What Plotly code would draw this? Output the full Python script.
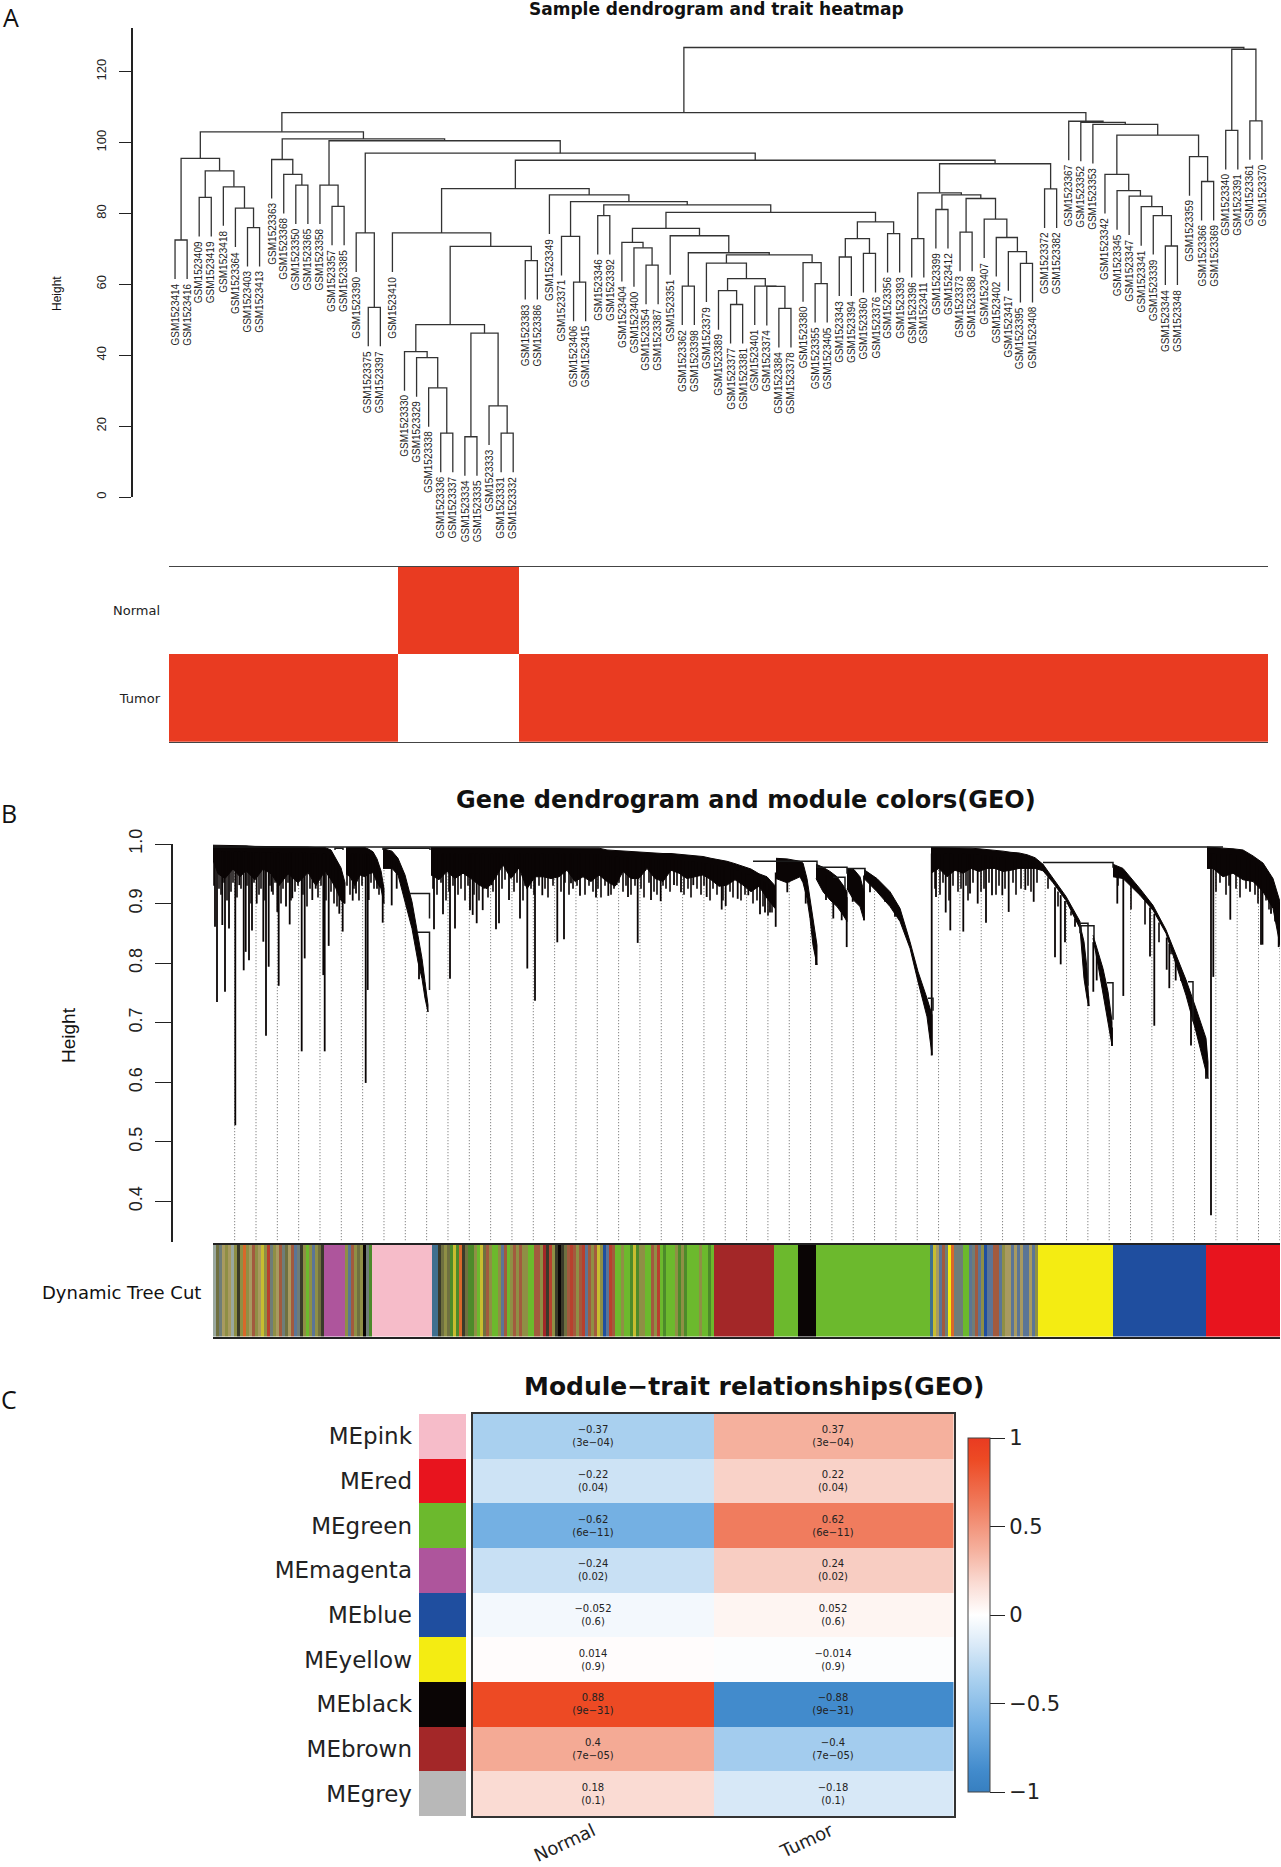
import numpy as np
import plotly.graph_objects as go

W, H = 1281, 1867

# --- panel A: sample tree, node = (height, left, right), leaf = GSM1523xxx suffix
T_LEFT1 = (95.5, (72.5, 414, 416), (92, (84.5, 409, 419), (87.5, 418, (81.5, 364, (76, 403, 413)))))
T_LEFT2 = (95.2, 363, (91, 368, (88, 350, 365)))
T_LEFT3 = (88, 358, (82, 357, 385))
T_LEFT4 = (74.5, 390, (53.5, 375, 397))
T_NORMAL = (48.6, (41, 330, (39.3, 329, (30.8, 338, (18, 336, 337)))),
            (46.2, (17, 334, 335), (25.7, 333, (18, 331, 332))))
T_MID1 = (74.5, 410, (70.7, T_NORMAL, (66.7, 383, 386)))
T_MID3 = (68.9, (59.5, 362, 398),
          (68.3, (66, 379, (61.6, (58.2, 389, (54.3, 377, 381)), (59.5, 401, (59.4, 374, (53.2, 384, 378))))),
           (66.1, 380, (60.2, 355, 405))))
T_MID2 = (80.3, (75.8, (71.8, 404, (70.3, 400, (65.4, 354, 387))), (73.7, 351, T_MID3)),
          (77.6, (72.9, (67.7, 343, 394), (68.7, 360, 376)), (74.3, 356, 393)))
T_MID = (87, T_MID1, (85.2, 349, (83.3, (73.5, 371, (60.6, 406, 415)), (82.4, (79.4, 346, 392), T_MID2))))
T_RIGHT = (94, (85.8, (72.9, 396, 411),
                (85.2, (81.1, 399, 412),
                 (84.2, (74.7, 373, 388), (78.4, 407, (73.2, 402, (69.2, 417, (65.9, 395, 408))))))),
           (86.9, 372, 382))
T_LEFT = (103, T_LEFT1, (101, T_LEFT2, (100.5, T_LEFT3, (97, T_LEFT4, (95, T_MID, T_RIGHT)))))
T_FAR = (106, 367, (105.7, 352, (105.1, 353, (102.1,
         (91, 342, (86.4, 345, (84.9, 347, (81.9, 341, (79.4, 339, (70.8, 344, 348)))))),
         (96, 359, (89, 366, 369))))))
SAMPLE_TREE = (126.8, (108.4, T_LEFT, T_FAR), (126.3, (103.4, 340, 391), (106.1, 361, 370)))
LEAF_HANG = 11
NORMAL_SAMPLES = [330, 329, 338, 336, 337, 334, 335, 333, 331, 332]
TRAITS = ["Normal", "Tumor"]
A_TICKS = [0, 20, 40, 60, 80, 100, 120]

# --- panel B: gene tree, read as branches (gene order x, top and lower edge of the black mass)
BR1_X = [0, 5, 12, 20, 27, 33, 42, 50, 58, 66, 75, 85, 95, 103, 112, 118, 123, 128, 132]
BR1_TOP = [.998, .998, .998, .997, .997, .997, .996, .996, .996, .995, .995, .995, .995, .994, .994, .990, .975, .960, .935]
BR1_LOW = [.973, .950, .942, .958, .945, .955, .940, .958, .950, .930, .950, .935, .952, .930, .955, .940, .925, .905, .900]
BR2_X = [133, 137, 142, 147, 152, 156, 160, 164, 168, 171]
BR2_TOP = [.994, .994, .994, .994, .994, .991, .987, .975, .955, .925]
BR2_LOW = [.950, .945, .930, .948, .945, .950, .952, .935, .925, .900]
BR3_X = [170, 179, 185, 192, 199, 205, 209, 212, 215]
BR3_TOP = [.992, .988, .976, .948, .903, .847, .808, .769, .730]
BR3_LOW = [.959, .959, .948, .903, .858, .802, .774, .741, .718]
BR4_X = [218, 226, 234, 242, 250, 258, 266, 274, 282, 290, 298, 306, 314, 322, 330, 338, 346, 354, 362, 370, 378, 386,
         394, 402, 410, 418, 426, 434, 442, 450, 458, 466, 474, 482, 490, 498, 506, 514, 522, 530, 538, 546, 554, 562]
BR4_TOP = [.994, .994, .994, .994, .994, .994, .994, .994, .994, .994, .994, .994, .994, .994, .994, .994, .994, .994, .994, .994, .994, .993,
           .990, .989, .988, .987, .987, .986, .985, .984, .984, .983, .982, .980, .979, .976, .974, .971, .967, .962, .958, .950, .945, .930]
BR4_LOW = [.948, .940, .954, .942, .951, .942, .931, .925, .942, .965, .942, .960, .925, .945, .945, .942, .945, .956, .937, .945, .937, .948,
           .937, .929, .954, .942, .942, .959, .942, .937, .956, .951, .942, .945, .948, .940, .929, .931, .940, .931, .920, .929, .909, .892]
BR5_X = [563, 574, 587, 590, 594, 597, 600, 604]
BR5_TOP = [.976, .975, .971, .968, .942, .909, .870, .830]
BR5_LOW = [.942, .935, .945, .935, .909, .875, .830, .797]
BR6_X = [603, 610, 617, 624, 630, 634]
BR6_TOP = [.966, .961, .954, .945, .931, .920]
BR6_LOW = [.942, .920, .906, .895, .881, .870]
BR7_X = [634, 641, 647, 651]
BR7_TOP = [.959, .957, .945, .920]
BR7_LOW = [.925, .905, .895, .872]
BR8_X = [651, 664, 677, 687, 697, 705, 714, 719]
BR8_TOP = [.957, .942, .920, .892, .836, .786, .741, .713]
BR8_LOW = [.942, .920, .895, .870, .825, .769, .710, .646]
BR9_X = [718, 726, 734, 742, 750, 758, 766, 774, 782, 790, 798, 806, 814, 822, 830]
BR9_TOP = [.994, .994, .994, .994, .994, .993, .992, .991, .989, .988, .986, .985, .982, .977, .966]
BR9_LOW = [.951, .959, .945, .956, .951, .959, .954, .959, .959, .954, .956, .959, .959, .959, .955]
BR10_X = [830, 840, 853, 867]
BR10_TOP = [.966, .942, .912, .870]
BR10_LOW = [.955, .935, .905, .858]
BR11_X = [867, 871, 874, 876]
BR11_TOP = [.864, .836, .791, .735]
BR11_LOW = [.858, .774, .741, .728]
BR12_X = [880, 885, 890, 895, 899]
BR12_TOP = [.847, .819, .791, .752, .702]
BR12_LOW = [.842, .797, .752, .702, .662]
BR13_X = [900, 910, 927, 940, 953, 963, 973, 983, 993, 995]
BR13_TOP = [.966, .959, .925, .897, .856, .814, .772, .724, .674, .634]
BR13_LOW = [.945, .942, .914, .889, .850, .797, .746, .685, .618, .606]
BR14_X = [994, 1000, 1010, 1020, 1030, 1040, 1050, 1060, 1067]
BR14_TOP = [.995, .994, .993, .992, .990, .980, .968, .942, .903]
BR14_LOW = [.959, .959, .945, .951, .940, .937, .920, .892, .830]

# single branches that hang well below the mass
DROP_X = [2, 4, 9.3, 12, 16, 22.3, 26.3, 30.7, 32.7, 36, 39, 43.7, 50.3, 53, 55.7, 58.7, 64.3, 65.7, 73, 76.7, 79.3, 88.7,
          91.7, 99.3, 102.7, 110.3, 111.7, 115.7, 126.3, 129.7, 139.7, 143, 152.7, 154.7, 155.7, 164, 169.7, 178.7, 183.7,
          206, 221, 230, 237, 242, 257, 259.7, 263.7, 269.7, 278.7, 283, 286, 296, 307, 314.3, 322, 329.3, 344.3, 351, 358,
          367, 383, 395.3, 403.7, 415, 424.7, 438, 447.7, 461, 468, 480.3, 493.7, 508.7, 512.7, 524.7, 535.3, 547, 552, 557,
          562.7, 574.3, 592.7, 603, 613, 620.3, 628.7, 633.7, 639.7, 651, 657, 672, 682, 718.7, 723, 732.7, 737.3, 750.3,
          757, 764.7, 773, 779, 789.3, 795.7, 812.3, 820.7, 842, 847.7, 852, 862, 875.3, 880.3, 883.7, 899, 904.3, 910.3,
          937, 941.3, 953.7, 956.3, 962.7, 978, 993, 998, 1000.3, 1017.3, 1037, 1048, 1049.5, 1058, 1065.7]
DROP_LOW = [.861, .735, .864, .752, .858, .528, .931, .788, .819, .805, .855, .900, .836, .678, .794, .920, .886, .762, .895, .865, .909, .652,
            .808, .906, .925, .780, .652, .829, .883, .853, .905, .917, .599, .755, .906, .925, .868, .897, .925,
            .773, .857, .882, .774, .858, .889, .881, .867, .889, .931, .857, .867, .906, .875, .791, .737, .914, .835, .840, .934,
            .913, .910, .913, .931, .911, .834, .906, .904, .931, .919, .931, .911, .890, .896, .908, .914, .882, .885, .885,
            .861, .919, .900, .797, .906, .875, .872, .827, .903, .872, .919, .903, .878, .645, .911, .885, .855, .853,
            .917, .900, .868, .914, .914, .886, .923, .903, .810, .798, .835, .861, .728, .752, .771, .661, .900, .745,
            .811, .695, .789, .758, .771, .662, .606, .377, .777, .873, .920, .831, .831, .883, .827]

# the short ragged branches along the lower edge of the mass
SHORT_X = [1, 6, 8, 11, 14, 18, 20, 24, 28, 34, 38, 41, 46, 48, 52, 57, 60, 62, 68, 70, 75, 78, 82, 85, 90, 94, 97, 100, 105, 108, 113, 118, 121, 124,
           134, 137, 141, 146, 149, 158, 161, 166,
           220, 224, 228, 233, 236, 240, 245, 248, 252, 255, 261, 266, 271, 275, 280, 289, 292, 301, 304, 310, 312, 318, 321, 326, 332, 335, 340,
           348, 352, 356, 360, 364, 372, 376, 380, 385, 388, 392, 398, 401, 406, 410, 413, 418, 422, 428, 431, 436, 441, 444, 450, 453, 457,
           464, 471, 475, 478, 484, 488, 491, 497, 500, 504, 510, 517, 520, 528, 532, 540, 544, 550, 555, 559,
           722, 727, 730, 736, 740, 745, 748, 753, 755, 760, 768, 771, 776, 783, 786, 792, 800, 803, 808, 815, 818, 824,
           1003, 1007, 1013, 1016, 1023, 1027, 1033, 1042, 1045, 1053, 1056, 1062,
           835, 845, 858, 905, 918, 932, 946, 958, 968]
SHORT_LOW = [.930, .925, .915, .935, .905, .920, .935, .910, .925, .930, .900, .935, .915, .925, .905, .930, .915, .935, .900, .925, .935, .905, .920, .930, .915, .895, .925, .935, .910, .930, .905, .920, .900, .895,
             .930, .915, .925, .905, .930, .935, .925, .915,
             .925, .915, .935, .905, .920, .930, .915, .925, .905, .930, .915, .905, .925, .910, .920, .925, .940, .920, .935, .905, .930, .925, .915, .930, .925, .910, .930,
             .920, .935, .915, .925, .930, .915, .930, .920, .925, .910, .930, .915, .925, .935, .920, .930, .915, .930, .925, .910, .935, .920, .915, .930, .925, .920,
             .930, .915, .925, .910, .925, .915, .930, .905, .925, .915, .905, .920, .910, .905, .915, .900, .905, .895, .880, .885,
             .925, .915, .935, .905, .930, .920, .925, .930, .905, .935, .920, .925, .935, .915, .930, .925, .935, .915, .925, .930, .920, .935,
             .920, .935, .915, .930, .925, .910, .925, .915, .900, .905, .890, .870,
             .925, .895, .880, .930, .890, .865, .835, .815, .770]

# connecting branches between the big clusters: x0, x1, height, lower end at x0 and at x1
LINK_X0 = [0, 122, 170, 197, 205, 540, 604, 620, 634, 715, 830, 867, 868, 894, 975]
LINK_X1 = [1010, 130, 217, 216.5, 216.5, 604, 634, 632, 652, 720, 900, 875, 881, 900, 980]
LINK_H = [.995, .993, .993, .917, .852, .971, .961, .944, .959, .741, .969, .867, .863, .767, .769]
LINK_LOW0 = [.995, .990, .990, .917, .852, .971, .961, .944, .959, .741, .969, .850, .850, .767, .769]
LINK_LOW1 = [.995, .990, .990, .875, .755, .960, .950, .925, .950, .720, .960, .762, .840, .705, .702]

B_TICKS = [.4, .5, .6, .7, .8, .9, 1.0]

# module colour strip, one letter per 3 units of gene order
MIX1 = "wOstotwoK" "ofotdotyor" "sotdsOtdSsK" "ogoSoOK"
MIX2 = "oSdoOo"
MIX3 = "BBKOoOGyGf" "KOGGogyOdo" "ggoSdgodod" "ooggddonKr" "oKkKOdrdod" "rSdodyobSr" "dggoggGyGo" "oggdorgGgg" "goGoGggggo" "ggGg"
MIX4 = "BytSdsYfss" "sggSsdSobS" "SddSottStS" "tSStSo"
STRIP = (MIX1 + "m" * 7 + MIX2 + "k" + "sG" + "p" * 20 + MIX3 + "n" * 20 + "g" * 8 + "k" * 6 + "g" * 38
         + MIX4 + "Y" * 25 + "b" * 31 + "R" * 25)
STRIP_COLORS = {"g": "#6cb92d", "G": "#4d8a2a", "o": "#8f8f45", "O": "#6f7040", "t": "#a89a60", "s": "#6f7d78",
                "S": "#5b7596", "d": "#a25a3e", "r": "#b8402e", "R": "#e8141e", "y": "#c8bd30", "Y": "#f4ec12",
                "f": "#d8682a", "k": "#0a0505", "K": "#3a3a2a", "b": "#1f4e9f", "B": "#3f6f8f", "n": "#a32728",
                "m": "#ae559c", "p": "#f6bcc9", "w": "#9aa8a0"}

# --- panel C
MODULES = ["MEpink", "MEred", "MEgreen", "MEmagenta", "MEblue", "MEyellow", "MEblack", "MEbrown", "MEgrey"]
MODULE_COLORS = ["#f6bcc9", "#e8141e", "#6cb92d", "#ae559c", "#1f4e9f", "#f4ec12", "#0a0505", "#a32728", "#b8b8b8"]
CORR_NORMAL = [-0.37, -0.22, -0.62, -0.24, -0.052, 0.014, 0.88, 0.4, 0.18]
CORR_TUMOR = [0.37, 0.22, 0.62, 0.24, 0.052, -0.014, -0.88, -0.4, -0.18]
PVALUES = ["3e−04", "0.04", "6e−11", "0.02", "0.6", "0.9", "9e−31", "7e−05", "0.1"]
CORR_STOPS = [-1, -.88, -.62, -.37, -.18, 0, .18, .37, .62, .88, 1]
CORR_HEX = ["#377fc0", "#428bcc", "#74b0e3", "#a9d0ef", "#d7e8f7", "#ffffff", "#fadbd3", "#f5b09d", "#f07c5e", "#ed4a24", "#e93b21"]
CBAR_TICKS = [-1, -.5, 0, .5, 1]

WIDE = "DejaVu Sans"
PLAIN = "Liberation Sans"
INK = "#222222"


def dom_x(left, right):
    return [left / W, right / W]


def dom_y(top, bottom):
    return [1 - bottom / H, 1 - top / H]


def discrete_scale(colors):
    n = len(colors)
    scale = []
    for i, c in enumerate(colors):
        scale += [[i / n, c], [(i + 1) / n, c]]
    return scale


def minus(v):
    return str(v).replace("-", "−")


# walk the sample tree: leaf order gives x, heights come from the nodes
leaf_ids, leaf_top = [], []
seg_x, seg_y = [], []


def walk(node, parent_h):
    if not isinstance(node, tuple):
        i = len(leaf_ids)
        leaf_ids.append(node)
        leaf_top.append(parent_h - LEAF_HANG)
        return i, parent_h - LEAF_HANG
    h, left, right = node
    xl, yl = walk(left, h)
    xr, yr = walk(right, h)
    seg_x.extend([xl, xl, xr, xr, None])
    seg_y.extend([yl, h, h, yr, None])
    return (xl + xr) / 2, h


walk(SAMPLE_TREE, SAMPLE_TREE[0])

fig = go.Figure()
fig.add_trace(go.Scatter(x=seg_x, y=seg_y, mode="lines", line=dict(color="#333333", width=1.3),
                         xaxis="x", yaxis="y", cliponaxis=False))

trait_z = [[1 if s in NORMAL_SAMPLES else 0 for s in leaf_ids],
           [0 if s in NORMAL_SAMPLES else 1 for s in leaf_ids]]
fig.add_trace(go.Heatmap(z=trait_z, x=list(range(len(leaf_ids))), y=[0, 1], zmin=0, zmax=1, showscale=False,
                         colorscale=[[0, "#ffffff"], [1, "#e93b21"]], xaxis="x2", yaxis="y2"))

# gene tree
branches = [(BR1_X, BR1_TOP, BR1_LOW), (BR2_X, BR2_TOP, BR2_LOW), (BR3_X, BR3_TOP, BR3_LOW), (BR4_X, BR4_TOP, BR4_LOW),
            (BR5_X, BR5_TOP, BR5_LOW), (BR6_X, BR6_TOP, BR6_LOW), (BR7_X, BR7_TOP, BR7_LOW), (BR8_X, BR8_TOP, BR8_LOW),
            (BR9_X, BR9_TOP, BR9_LOW), (BR10_X, BR10_TOP, BR10_LOW), (BR11_X, BR11_TOP, BR11_LOW),
            (BR12_X, BR12_TOP, BR12_LOW), (BR13_X, BR13_TOP, BR13_LOW), (BR14_X, BR14_TOP, BR14_LOW)]
all_x = sum((b[0] for b in branches), [])
all_top = sum((b[1] for b in branches), [])
all_low = sum((b[2] for b in branches), [])

# dotted guides sit behind everything else, they stop where the tree starts
guide_x, guide_y = [], []
for i in range(50):
    gx = 21.67 + 21.33 * i
    guide_x += [gx, gx, None]
    guide_y += [.335, float(np.interp(gx, all_x, all_low)), None]
fig.add_trace(go.Scatter(x=guide_x, y=guide_y, mode="lines", line=dict(color="#666666", width=1, dash="1px,2px"),
                         xaxis="x3", yaxis="y3"))

for bx, btop, blow in branches:
    fig.add_trace(go.Scatter(x=bx + bx[::-1], y=btop + blow[::-1], mode="lines", fill="toself", fillcolor="#0a0505",
                             line=dict(color="#0a0505", width=1), xaxis="x3", yaxis="y3"))

short_x, short_y = [], []
for x, low in zip(SHORT_X, SHORT_LOW):
    short_x += [x, x, None]
    short_y += [float(np.interp(x, all_x, all_top)) - .01, low, None]
fig.add_trace(go.Scatter(x=short_x, y=short_y, mode="lines", line=dict(color="#0a0505", width=1.6), xaxis="x3", yaxis="y3"))

drop_x, drop_y = [], []
for x, low in zip(DROP_X, DROP_LOW):
    drop_x += [x, x, None]
    drop_y += [float(np.interp(x, all_x, all_top)) - .01, low, None]
fig.add_trace(go.Scatter(x=drop_x, y=drop_y, mode="lines", line=dict(color="#0a0505", width=1.8), xaxis="x3", yaxis="y3"))

link_x, link_y = [], []
for x0, x1, h, l0, l1 in zip(LINK_X0, LINK_X1, LINK_H, LINK_LOW0, LINK_LOW1):
    link_x += [x0, x0, x1, x1, None]
    link_y += [l0, h, h, l1, None]
fig.add_trace(go.Scatter(x=link_x, y=link_y, mode="lines", line=dict(color="#1a1a1a", width=1.5), xaxis="x3", yaxis="y3"))

strip_keys = list(STRIP_COLORS)
strip_z = [[strip_keys.index(c) + 0.5 for c in STRIP]]
fig.add_trace(go.Heatmap(z=strip_z, x=[1.5 + 3 * i for i in range(len(STRIP))], y=[0], showscale=False, zmin=0,
                         zmax=len(strip_keys), colorscale=discrete_scale([STRIP_COLORS[k] for k in strip_keys]),
                         xaxis="x4", yaxis="y4"))

# module trait panel
fig.add_trace(go.Heatmap(z=[[i + 0.5] for i in range(len(MODULES))], x=[0], y=list(range(len(MODULES))), zmin=0,
                         zmax=len(MODULES), showscale=False, colorscale=discrete_scale(MODULE_COLORS),
                         xaxis="x5", yaxis="y5"))

corr_z = [[a, b] for a, b in zip(CORR_NORMAL, CORR_TUMOR)]
corr_text = [[f"{minus(a)}<br>({p})", f"{minus(b)}<br>({p})"] for a, b, p in zip(CORR_NORMAL, CORR_TUMOR, PVALUES)]
corr_scale = [[(s + 1) / 2, c] for s, c in zip(CORR_STOPS, CORR_HEX)]
fig.add_trace(go.Heatmap(z=corr_z, x=[0, 1], y=list(range(len(MODULES))), zmin=-1, zmax=1, colorscale=corr_scale,
                         text=corr_text, texttemplate="%{text}", textfont=dict(family=WIDE, size=10, color=INK),
                         xaxis="x6", yaxis="y6",
                         colorbar=dict(thickness=22, thicknessmode="pixels", len=354, lenmode="pixels",
                                       x=968 / W, xanchor="left", y=1 - 1615 / H, yanchor="middle", xpad=0, ypad=0,
                                       outlinewidth=1, outlinecolor="#444444",
                                       tickvals=CBAR_TICKS, ticktext=[minus(t) for t in CBAR_TICKS], ticks="outside",
                                       ticklen=15, tickcolor=INK, tickfont=dict(family=WIDE, size=21, color=INK))))

# leaf labels of panel A hang under their branch ends
annotations = []
for i, (s, top) in enumerate(zip(leaf_ids, leaf_top)):
    annotations.append(dict(x=i, y=top - 1, xref="x", yref="y", text=f"GSM1523{s}", textangle=-90, showarrow=False,
                            xanchor="center", yanchor="top", borderpad=0,
                            font=dict(family=PLAIN, size=10, color="#222222")))


def paper_text(x, y, text, size, family=WIDE, bold=False, angle=0, xanchor="center", yanchor="middle", color="#111111"):
    label = f"<b>{text}</b>" if bold else text
    annotations.append(dict(x=x / W, y=1 - y / H, xref="paper", yref="paper", text=label, textangle=angle,
                            showarrow=False, xanchor=xanchor, yanchor=yanchor, borderpad=0,
                            font=dict(family=family, size=size, color=color)))


paper_text(717, 9, "Sample dendrogram and trait heatmap", 17, bold=True)
paper_text(746, 800, "Gene dendrogram and module colors(GEO)", 24, bold=True)
paper_text(754, 1386, "Module−trait relationships(GEO)", 25, bold=True)
paper_text(11, 17, "A", 25, family="Open Sans")
paper_text(9, 813, "B", 25, family="Open Sans")
paper_text(9, 1399, "C", 25, family="Open Sans")
paper_text(57, 294, "Height", 12, family=PLAIN, angle=-90)
paper_text(68, 1035, "Height", 19, family=PLAIN, angle=-90)
paper_text(202, 1292, "Dynamic Tree Cut", 18, xanchor="right")
# column labels run up to their column centre and must stay inside the page
paper_text(600, 1818, TRAITS[0], 18, angle=-25, xanchor="right", yanchor="top", color=INK)
paper_text(838, 1818, TRAITS[1], 18, angle=-25, xanchor="right", yanchor="top", color=INK)

hidden = dict(visible=False)
fig.update_layout(
    width=W, height=H, margin=dict(l=0, r=0, t=0, b=0, autoexpand=False), showlegend=False,
    paper_bgcolor="white", plot_bgcolor="white", annotations=annotations,
    xaxis=dict(domain=dom_x(169, 1268), range=[-0.5, 90.5], **hidden),
    yaxis=dict(domain=dom_y(28, 497), range=[0, 132.3], anchor="free", position=132 / W, showgrid=False, zeroline=False,
               showline=True, linecolor=INK, linewidth=1.5, ticks="outside", ticklen=12, tickcolor=INK,
               tickvals=A_TICKS, tickangle=-90, ticklabelstandoff=8, tickfont=dict(family=PLAIN, size=13, color=INK)),
    xaxis2=dict(domain=dom_x(169, 1268), range=[-0.5, 90.5], anchor="y2", showgrid=False, zeroline=False,
                showline=True, mirror=True, linecolor="#444444", linewidth=1, showticklabels=False, ticks=""),
    yaxis2=dict(domain=dom_y(566.7, 742), range=[1.5, -0.5], anchor="x2", showgrid=False, zeroline=False, ticks="",
                tickvals=[0, 1], ticktext=TRAITS, ticklabelstandoff=8, tickfont=dict(family=WIDE, size=13, color=INK)),
    xaxis3=dict(domain=dom_x(213, 1280), range=[0, 1067], anchor="y3", **hidden),
    yaxis3=dict(domain=dom_y(844, 1242), range=[.332, 1.0], anchor="free", position=171.6 / W, showgrid=False,
                zeroline=False, showline=True, linecolor=INK, linewidth=1.5, ticks="outside", ticklen=16, tickcolor=INK,
                tickvals=B_TICKS, ticktext=[f"{t:.1f}" for t in B_TICKS], tickangle=-90, ticklabelstandoff=6,
                tickfont=dict(family=PLAIN, size=18, color=INK)),
    xaxis4=dict(domain=dom_x(213, 1280), range=[0, 1067], anchor="y4", showgrid=False, zeroline=False, showline=True,
                mirror=True, linecolor="#222222", linewidth=2, showticklabels=False, ticks=""),
    yaxis4=dict(domain=dom_y(1245, 1336.5), range=[-0.5, 0.5], anchor="x4", **hidden),
    xaxis5=dict(domain=dom_x(419, 466), range=[-0.5, 0.5], anchor="y5", **hidden),
    yaxis5=dict(domain=dom_y(1414, 1816), range=[8.5, -0.5], anchor="x5", showgrid=False, zeroline=False, ticks="",
                tickvals=list(range(len(MODULES))), ticktext=MODULES, ticklabelstandoff=6,
                tickfont=dict(family=WIDE, size=23, color=INK)),
    xaxis6=dict(domain=dom_x(473, 953.5), range=[-0.5, 1.5], anchor="y6", showgrid=False, zeroline=False, showline=True,
                mirror=True, linecolor="#333333", linewidth=1.5, ticks="", showticklabels=False),
    yaxis6=dict(domain=dom_y(1414, 1816), range=[8.5, -0.5], anchor="x6", showgrid=False, zeroline=False,
                showline=True, mirror=True, linecolor="#333333", linewidth=1.5, showticklabels=False, ticks=""),
)

# default page margin would push the fixed-size figure off the window
fig.write_html("out.html", config={"displayModeBar": False}, post_script="document.body.style.margin='0';")
